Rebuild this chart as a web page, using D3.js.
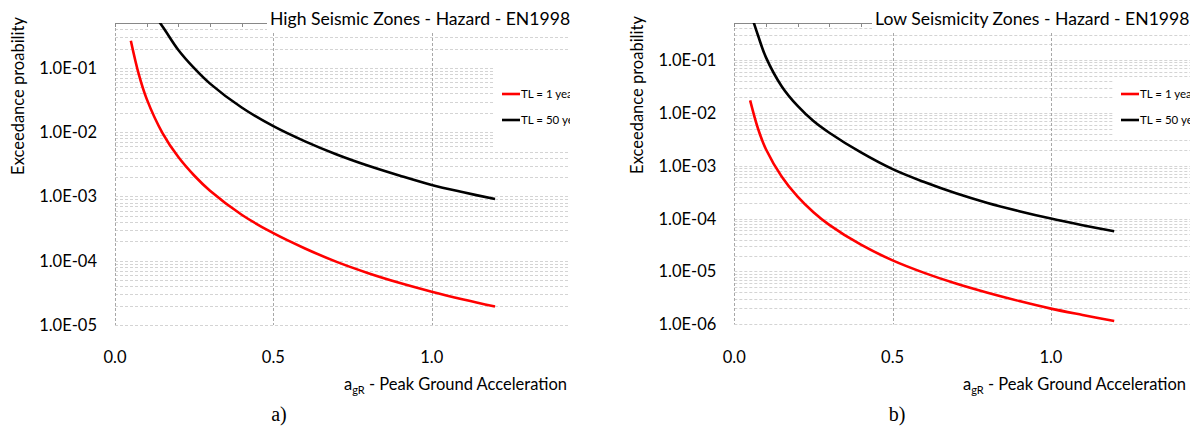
<!DOCTYPE html>
<html><head><meta charset="utf-8">
<script src="https://cdn.jsdelivr.net/npm/d3@7"></script>
<style>body{margin:0;background:#fff}svg{display:block}</style>
</head><body>
<svg id="c" width="1201" height="430"></svg>
<script>
// ---- data ----
const xValues = [0.05,0.075,0.1,0.15,0.2,0.25,0.3,0.4,0.5,0.6,0.7,0.8,0.9,1.0,1.1,1.2];
const highTL1  = [0.265,0.08,0.033,0.0097,0.0041,0.00212,0.00123,5.2e-4,2.68e-4,1.55e-4,9.6e-5,6.4e-5,4.5e-5,3.3e-5,2.5e-5,1.94e-5];
const highTL50 = [1.0,1.0,0.95,0.44,0.19,0.099,0.057,0.0242,0.0124,0.0072,0.0045,0.0030,0.0021,0.00151,0.00116,0.00091];
const lowTL1   = [0.0172,0.0050,0.00205,6.2e-4,2.6e-4,1.32e-4,7.6e-5,3.2e-5,1.62e-5,9.4e-6,5.9e-6,3.95e-6,2.75e-6,1.98e-6,1.5e-6,1.15e-6];
const lowTL50  = [0.83,0.29,0.112,0.0316,0.0135,0.0070,0.0042,0.00178,8.6e-4,4.9e-4,3.0e-4,1.97e-4,1.38e-4,1.0e-4,7.5e-5,5.75e-5];
const xTicks = [0, 0.5, 1.0];
const xTickLabels = ["0.0","0.5","1.0"];
const highYTicks = [1e-1,1e-2,1e-3,1e-4,1e-5];
const highYTickLabels = ["1.0E-01","1.0E-02","1.0E-03","1.0E-04","1.0E-05"];
const lowYTicks = [1e-1,1e-2,1e-3,1e-4,1e-5,1e-6];
const lowYTickLabels = ["1.0E-01","1.0E-02","1.0E-03","1.0E-04","1.0E-05","1.0E-06"];
const seriesNames = ["TL = 1 year","TL = 50 years"];
const seriesColors = ["#ff0000","#000000"];
const titles = ["High Seismic Zones - Hazard - EN1998","Low Seismicity Zones - Hazard - EN1998"];
const yTitle = "Exceedance proability";
const panelLabels = ["a)","b)"];

const svg = d3.select("#c");
svg.append("rect").attr("width",1201).attr("height",430).attr("fill","#fff");
const FONT = "Lato, 'Open Sans', sans-serif";

function drawChart(o){
  const g = svg.append("g");
  const clipId = "clip"+o.id;
  const defs = svg.append("defs");
  defs.append("clipPath").attr("id",clipId).append("rect")
    .attr("x",o.left).attr("y",o.top).attr("width",o.clipRight-o.left).attr("height",o.bottom-o.top);
  defs.append("clipPath").attr("id",clipId+"b").append("rect")
    .attr("x",0).attr("y",0).attr("width",o.clipRight).attr("height",430);
  const x = d3.scaleLinear().domain([0,1.5]).range([o.left,o.left+1.5*o.pxPerUnit]);
  const y = d3.scaleLog().domain([o.yMin,0.5]).range([o.bottom,o.top]);
  const cg = g.append("g").attr("clip-path",`url(#${clipId}b)`);
  const right = o.clipRight;
  // minor grid
  const minor=[];
  for(let e=Math.log10(o.yMin); e<0; e++){
    const d=Math.pow(10,e);
    for(let m=1;m<=9;m++){const v=m*d; if(v>=o.yMin*0.999 && v<=0.5001) minor.push(v);}
  }
  cg.selectAll(".hg").data(minor).enter().append("line")
    .attr("x1",o.left).attr("x2",right).attr("y1",d=>Math.round(y(d))+0.5).attr("y2",d=>Math.round(y(d))+0.5)
    .attr("stroke","#d4d4d4").attr("stroke-width",1).attr("stroke-dasharray","3,2");
  // vertical grid
  cg.selectAll(".vg").data(xTicks).enter().append("line")
    .attr("x1",d=>Math.round(x(d))+0.5).attr("x2",d=>Math.round(x(d))+0.5).attr("y1",o.top).attr("y2",o.bottom)
    .attr("stroke","#a8a8a8").attr("stroke-width",1).attr("stroke-dasharray","3,2");
  // top axis line with ticks
  cg.append("line").attr("x1",o.left).attr("x2",right).attr("y1",o.top+0.5).attr("y2",o.top+0.5)
    .attr("stroke","#888").attr("stroke-width",1.2);
  cg.selectAll(".tt").data(d3.range(0,15).map(i=>i/10)).enter().append("line")
    .attr("x1",d=>Math.round(x(d))+0.5).attr("x2",d=>Math.round(x(d))+0.5).attr("y1",o.top).attr("y2",o.top+4)
    .attr("stroke","#888").attr("stroke-width",1);
  // series
  const line = d3.line().x(d=>x(d[0])).y(d=>y(d[1])).curve(d3.curveCatmullRom.alpha(0.5));
  const pg = g.append("g").attr("clip-path",`url(#${clipId})`);
  o.series.forEach((s,i)=>{
    pg.append("path").datum(xValues.map((xv,j)=>[xv,s[j]]))
      .attr("d",line).attr("fill","none").attr("stroke",seriesColors[i]).attr("stroke-width",2.6)
      .attr("stroke-linejoin","round");
  });
  // title box
  cg.append("rect").attr("x",o.titleX-3).attr("y",0).attr("width",right-o.titleX+3).attr("height",31).attr("fill","#fff");
  cg.append("text").attr("x",o.titleX).attr("y",25).text(o.title)
    .attr("font-family",FONT).attr("font-size",17.6).attr("fill","#000");
  // legend box
  cg.append("rect").attr("x",o.legX).attr("y",o.legY0).attr("width",right-o.legX).attr("height",o.legY1-o.legY0).attr("fill","#fff");
  seriesNames.forEach((n,i)=>{
    const yy=o.legItemY[i];
    cg.append("line").attr("x1",o.legX+8).attr("x2",o.legX+26).attr("y1",yy).attr("y2",yy)
      .attr("stroke",seriesColors[i]).attr("stroke-width",2.6);
    cg.append("text").attr("x",o.legX+27).attr("y",yy).attr("dy","0.35em").text(n)
      .attr("font-family",FONT).attr("font-size",11.5).attr("fill","#000");
  });
  // y tick labels
  g.selectAll(".yl").data(o.yTicks).enter().append("text")
    .attr("x",o.left-18).attr("y",d=>y(d)).attr("dy","0.36em").attr("text-anchor","end")
    .text((d,i)=>o.yTickLabels[i]).attr("font-family",FONT).attr("font-size",16.5).attr("fill","#000");
  // x tick labels
  g.selectAll(".xl").data(xTicks).enter().append("text")
    .attr("x",d=>x(d)).attr("y",363).attr("text-anchor","middle")
    .text((d,i)=>xTickLabels[i]).attr("font-family",FONT).attr("font-size",16.5).attr("fill","#000");
  // x title
  const xt = g.append("text").attr("x",o.xTitleX).attr("y",390).attr("text-anchor","end")
    .attr("font-family",FONT).attr("font-size",16.5).attr("fill","#000");
  xt.append("tspan").text("a");
  xt.append("tspan").attr("dy",4).attr("font-size",11).text("gR");
  xt.append("tspan").attr("dy",-4).text(" - Peak Ground Acceleration");
  // y title
  g.append("text").attr("transform",`translate(${o.yTitleX},${o.yTitleY}) rotate(-90)`)
    .attr("text-anchor","middle").attr("dy","0.35em").text(yTitle)
    .attr("font-family",FONT).attr("font-size",16.5).attr("fill","#000");
  // panel label
  g.append("text").attr("x",o.panelX).attr("y",421).attr("text-anchor","middle").text(o.panel)
    .attr("font-family","'Liberation Serif','DejaVu Serif',serif").attr("font-size",20).attr("fill","#000");
}

drawChart({id:1,left:115,top:23,bottom:325,pxPerUnit:316.7,clipRight:570,yMin:1e-5,
  yTicks:highYTicks,yTickLabels:highYTickLabels,series:[highTL1,highTL50],title:titles[0],titleX:270,
  legX:494,legY0:55,legY1:150,legItemY:[94,120],xTitleX:567,yTitleX:18,yTitleY:96,panelX:279,panel:panelLabels[0]});
drawChart({id:2,left:734.3,top:23,bottom:324.3,pxPerUnit:316.6,clipRight:1190,yMin:1e-6,
  yTicks:lowYTicks,yTickLabels:lowYTickLabels,series:[lowTL1,lowTL50],title:titles[1],titleX:875,
  legX:1113,legY0:80,legY1:135,legItemY:[94,120],xTitleX:1186,yTitleX:637,yTitleY:95,panelX:897,panel:panelLabels[1]});
</script>
</body></html>
